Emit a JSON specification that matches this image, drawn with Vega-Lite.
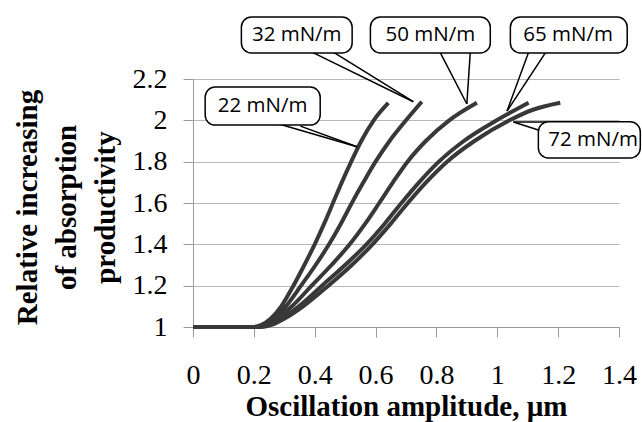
{
  "$schema": "https://vega.github.io/schema/vega-lite/v6.json",
  "width": 426,
  "height": 248,
  "autosize": {"type": "none"},
  "padding": {"left": 193, "top": 79, "right": 23, "bottom": 95},
  "background": "white",
  "config": {"view": {"stroke": null}},
  "datasets": {
    "curves": [
      {"s": "22", "x": 0, "y": 1}, {"s": "22", "x": 0.2, "y": 1}, {"s": "22", "x": 0.225, "y": 1.01}, {"s": "22", "x": 0.255, "y": 1.04}, {"s": "22", "x": 0.29, "y": 1.1}, {"s": "22", "x": 0.33, "y": 1.2}, {"s": "22", "x": 0.366, "y": 1.3}, {"s": "22", "x": 0.4, "y": 1.4}, {"s": "22", "x": 0.431, "y": 1.5}, {"s": "22", "x": 0.46, "y": 1.6}, {"s": "22", "x": 0.489, "y": 1.7}, {"s": "22", "x": 0.52, "y": 1.8}, {"s": "22", "x": 0.553, "y": 1.9}, {"s": "22", "x": 0.594, "y": 2.0}, {"s": "22", "x": 0.642, "y": 2.084},
      {"s": "32", "x": 0, "y": 1}, {"s": "32", "x": 0.2, "y": 1}, {"s": "32", "x": 0.232, "y": 1.01}, {"s": "32", "x": 0.265, "y": 1.04}, {"s": "32", "x": 0.305, "y": 1.1}, {"s": "32", "x": 0.355, "y": 1.2}, {"s": "32", "x": 0.403, "y": 1.3}, {"s": "32", "x": 0.447, "y": 1.4}, {"s": "32", "x": 0.486, "y": 1.5}, {"s": "32", "x": 0.522, "y": 1.6}, {"s": "32", "x": 0.56, "y": 1.7}, {"s": "32", "x": 0.6, "y": 1.8}, {"s": "32", "x": 0.646, "y": 1.9}, {"s": "32", "x": 0.7, "y": 2.0}, {"s": "32", "x": 0.752, "y": 2.09},
      {"s": "50", "x": 0, "y": 1}, {"s": "50", "x": 0.2, "y": 1}, {"s": "50", "x": 0.238, "y": 1.01}, {"s": "50", "x": 0.275, "y": 1.04}, {"s": "50", "x": 0.325, "y": 1.1}, {"s": "50", "x": 0.39, "y": 1.2}, {"s": "50", "x": 0.455, "y": 1.3}, {"s": "50", "x": 0.515, "y": 1.4}, {"s": "50", "x": 0.566, "y": 1.5}, {"s": "50", "x": 0.612, "y": 1.6}, {"s": "50", "x": 0.657, "y": 1.7}, {"s": "50", "x": 0.705, "y": 1.8}, {"s": "50", "x": 0.765, "y": 1.9}, {"s": "50", "x": 0.842, "y": 2.0}, {"s": "50", "x": 0.933, "y": 2.085},
      {"s": "65", "x": 0, "y": 1}, {"s": "65", "x": 0.21, "y": 1}, {"s": "65", "x": 0.248, "y": 1.01}, {"s": "65", "x": 0.29, "y": 1.04}, {"s": "65", "x": 0.348, "y": 1.1}, {"s": "65", "x": 0.424, "y": 1.2}, {"s": "65", "x": 0.5, "y": 1.3}, {"s": "65", "x": 0.57, "y": 1.4}, {"s": "65", "x": 0.63, "y": 1.5}, {"s": "65", "x": 0.685, "y": 1.6}, {"s": "65", "x": 0.743, "y": 1.7}, {"s": "65", "x": 0.808, "y": 1.8}, {"s": "65", "x": 0.89, "y": 1.9}, {"s": "65", "x": 0.998, "y": 2.0}, {"s": "65", "x": 1.103, "y": 2.085},
      {"s": "72", "x": 0, "y": 1}, {"s": "72", "x": 0.22, "y": 1}, {"s": "72", "x": 0.258, "y": 1.01}, {"s": "72", "x": 0.3, "y": 1.04}, {"s": "72", "x": 0.362, "y": 1.1}, {"s": "72", "x": 0.445, "y": 1.2}, {"s": "72", "x": 0.522, "y": 1.3}, {"s": "72", "x": 0.59, "y": 1.4}, {"s": "72", "x": 0.65, "y": 1.5}, {"s": "72", "x": 0.706, "y": 1.6}, {"s": "72", "x": 0.766, "y": 1.7}, {"s": "72", "x": 0.835, "y": 1.8}, {"s": "72", "x": 0.925, "y": 1.9}, {"s": "72", "x": 1.04, "y": 2.0}, {"s": "72", "x": 1.115, "y": 2.05}, {"s": "72", "x": 1.207, "y": 2.085}
    ],
    "tails": [
      {"label": "22", "x": 0.260, "y": 1.992, "x2": 0.539, "y2": 1.872},
      {"label": "22", "x": 0.353, "y": 1.972, "x2": 0.539, "y2": 1.872},
      {"label": "32", "x": 0.391, "y": 2.330, "x2": 0.724, "y2": 2.090},
      {"label": "32", "x": 0.461, "y": 2.330, "x2": 0.724, "y2": 2.090},
      {"label": "50", "x": 0.813, "y": 2.326, "x2": 0.900, "y2": 2.079},
      {"label": "50", "x": 0.911, "y": 2.326, "x2": 0.900, "y2": 2.079},
      {"label": "65", "x": 1.102, "y": 2.326, "x2": 1.032, "y2": 2.045},
      {"label": "65", "x": 1.158, "y": 2.326, "x2": 1.032, "y2": 2.045},
      {"label": "72", "x": 1.135, "y": 1.953, "x2": 1.053, "y2": 1.992},
      {"label": "72", "x": 1.161, "y": 1.992, "x2": 1.053, "y2": 1.992}
    ],
    "boxes": [
      {"label": "22 mN/m", "x1": 0.040, "x2": 0.418, "y1": 1.977, "y2": 2.161, "tx": 0.229, "ty": 2.069},
      {"label": "32 mN/m", "x1": 0.159, "x2": 0.523, "y1": 2.326, "y2": 2.500, "tx": 0.341, "ty": 2.413},
      {"label": "50 mN/m", "x1": 0.583, "x2": 0.977, "y1": 2.326, "y2": 2.500, "tx": 0.780, "ty": 2.413},
      {"label": "65 mN/m", "x1": 1.043, "x2": 1.427, "y1": 2.326, "y2": 2.500, "tx": 1.233, "ty": 2.413},
      {"label": "72 mN/m", "x1": 1.135, "x2": 1.470, "y1": 1.818, "y2": 1.993, "tx": 1.315, "ty": 1.905}
    ]
  },
  "layer": [
    {
      "data": {"name": "curves"},
      "mark": {"type": "line", "color": "#383838", "strokeWidth": 4, "interpolate": "monotone"},
      "encoding": {
        "x": {
          "field": "x", "type": "quantitative",
          "scale": {"domain": [0, 1.4], "nice": false, "zero": false},
          "axis": {
            "title": "Oscillation amplitude, µm",
            "values": [0, 0.2, 0.4, 0.6, 0.8, 1, 1.2, 1.4],
            "format": "~g",
            "grid": false,
            "domainColor": "#9a9a9a",
            "tickColor": "#9a9a9a",
            "tickSize": 10,
            "labelFont": "Liberation Serif",
            "labelFontSize": 28,
            "labelColor": "black",
            "labelBaseline": "alphabetic",
            "labelPadding": 46,
            "labelFlush": false,
            "labelOverlap": false,
            "titleFont": "Liberation Serif",
            "titleFontSize": 29,
            "titleFontWeight": "bold",
            "titleColor": "black",
            "titleX": 213,
            "titleY": 88,
            "titleAlign": "center",
            "titleBaseline": "alphabetic"
          }
        },
        "y": {
          "field": "y", "type": "quantitative",
          "scale": {"domain": [1, 2.2], "nice": false, "zero": false},
          "axis": {
            "title": ["Relative increasing", "of absorption", "productivity"],
            "values": [1, 1.2, 1.4, 1.6, 1.8, 2, 2.2],
            "format": "~g",
            "grid": true,
            "gridColor": "#b8b8b8",
            "gridWidth": 1,
            "domainColor": "#9a9a9a",
            "tickColor": "#9a9a9a",
            "tickSize": 10,
            "labelFont": "Liberation Serif",
            "labelFontSize": 28,
            "labelColor": "black",
            "labelPadding": 16,
            "labelOverlap": false,
            "labelFlush": false,
            "titleFont": "Liberation Serif",
            "titleFontSize": 29,
            "titleFontWeight": "bold",
            "titleColor": "black",
            "titleLineHeight": 39,
            "titleAngle": -90,
            "titleX": -165.5,
            "titleY": 128,
            "titleAlign": "center",
            "titleBaseline": "middle"
          }
        },
        "detail": {"field": "s", "type": "nominal"}
      }
    },
    {
      "data": {"name": "tails"},
      "mark": {"type": "rule", "color": "black", "strokeWidth": 1.5},
      "encoding": {
        "x": {"field": "x", "type": "quantitative"},
        "y": {"field": "y", "type": "quantitative"},
        "x2": {"field": "x2"},
        "y2": {"field": "y2"}
      }
    },
    {
      "data": {"name": "boxes"},
      "mark": {"type": "rect", "fill": "white", "stroke": "black", "strokeWidth": 1.5, "cornerRadius": 10},
      "encoding": {
        "x": {"field": "x1", "type": "quantitative"},
        "x2": {"field": "x2"},
        "y": {"field": "y1", "type": "quantitative"},
        "y2": {"field": "y2"}
      }
    },
    {
      "data": {"name": "boxes"},
      "mark": {"type": "text", "font": "Open Sans", "fontSize": 20.5, "color": "black", "align": "center", "baseline": "middle"},
      "encoding": {
        "x": {"field": "tx", "type": "quantitative"},
        "y": {"field": "ty", "type": "quantitative"},
        "text": {"field": "label"}
      }
    }
  ]
}
